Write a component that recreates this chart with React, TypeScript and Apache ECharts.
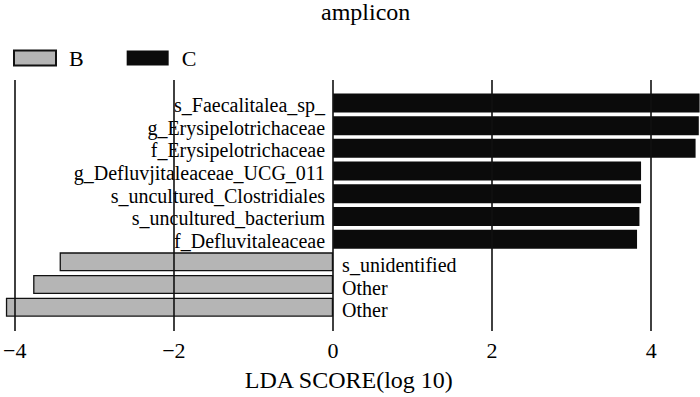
import React, { useEffect, useRef } from "react";
import * as echarts from "echarts";

const categories = [
  "s_Faecalitalea_sp_",
  "g_Erysipelotrichaceae",
  "f_Erysipelotrichaceae",
  "g_Defluvjitaleaceae_UCG_011",
  "s_uncultured_Clostridiales",
  "s_uncultured_bacterium",
  "f_Defluvitaleaceae",
  "s_unidentified",
  "Other",
  "Other",
];
const seriesB = [null, null, null, null, null, null, null, -3.41, -3.74, -4.08];
const seriesC = [4.57, 4.56, 4.52, 3.84, 3.84, 3.82, 3.79, null, null, null];
const xTicks = [-4, -2, 0, 2, 4];

const FONT = "'Liberation Serif', 'Times New Roman', 'DejaVu Serif', serif";
const GRID_LEFT = 12.3;
const X_MIN = -4;
const X_MAX = 4.575;

export default function App() {
  const ref = useRef<HTMLDivElement>(null);
  useEffect(() => {
    if (!ref.current) return;
    const chart = echarts.init(ref.current, null, { renderer: "svg" });
    chart.setOption({
      animation: false,
      backgroundColor: "#ffffff",
      textStyle: { fontFamily: FONT },
      title: {
        text: "amplicon",
        left: 321,
        top: 0,
        padding: 0,
        textStyle: { fontFamily: FONT, fontSize: 24, fontWeight: "normal", color: "#000" },
      },
      legend: {
        data: ["B", "C"],
        left: 13,
        top: 47,
        padding: 0,
        itemWidth: 42,
        itemHeight: 15,
        itemGap: 43,
        icon: "rect",
        textStyle: { fontFamily: FONT, fontSize: 22, color: "#000", padding: [0, 0, 0, 8] },
      },
      grid: [
        { left: GRID_LEFT, right: 0, top: 80, bottom: 59 },
        { left: GRID_LEFT, right: 0, top: 91.6, bottom: 78.4 },
      ],
      xAxis: [
        {
          type: "value",
          gridIndex: 0,
          min: X_MIN,
          max: X_MAX,
          interval: 2,
          z: 10,
          axisLine: { show: false },
          axisTick: { show: false },
          splitLine: { show: true, showMaxLine: false, lineStyle: { color: "#111", width: 1.6 } },
          axisLabel: {
            margin: 8,
            fontFamily: FONT,
            fontSize: 22,
            color: "#000",
            formatter: (v: number) =>
              xTicks.indexOf(v) >= 0 ? String(v).replace("-", "\u2212") : "",
          },
          name: "LDA SCORE(log 10)",
          nameLocation: "middle",
          nameGap: 37,
          nameTextStyle: { fontFamily: FONT, fontSize: 24, color: "#000", padding: [0, 14, 0, 0] },
        },
        {
          type: "value",
          gridIndex: 1,
          min: X_MIN,
          max: X_MAX,
          show: false,
          splitLine: { show: false },
        },
      ],
      yAxis: [
        { type: "category", gridIndex: 0, data: categories, show: false },
        { type: "category", gridIndex: 1, data: categories, inverse: true, show: false },
      ],
      series: [
        {
          name: "B",
          type: "bar",
          xAxisIndex: 1,
          yAxisIndex: 1,
          stack: "lda",
          barWidth: 19,
          clip: false,
          data: seriesB,
          itemStyle: { color: "#b5b5b5", borderColor: "#111", borderWidth: 1.3 },
          label: {
            show: true,
            position: "right",
            distance: 9,
            offset: [0, 3],
            fontFamily: FONT,
            fontSize: 20,
            color: "#000",
            formatter: (p: any) => categories[p.dataIndex],
          },
        },
        {
          name: "C",
          type: "bar",
          xAxisIndex: 1,
          yAxisIndex: 1,
          stack: "lda",
          barWidth: 19.5,
          clip: false,
          data: seriesC,
          itemStyle: { color: "#0b0b0b" },
          label: {
            show: true,
            position: "left",
            distance: 8,
            offset: [0, 2],
            fontFamily: FONT,
            fontSize: 20,
            color: "#000",
            formatter: (p: any) => categories[p.dataIndex],
          },
        },
      ],
    });
    return () => chart.dispose();
  }, []);
  return <div ref={ref} style={{ width: 700, height: 397, position: "absolute", left: 0, top: 0 }} />;
}
